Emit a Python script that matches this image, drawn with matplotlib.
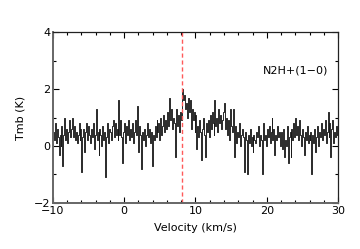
import numpy as np
import matplotlib
matplotlib.use("Agg")
import matplotlib.pyplot as plt
from matplotlib.ticker import MultipleLocator

# spectrum: 300 channels spanning -10 to 30 km/s
v_start = -10.0
v_end = 30.0
tmb = [
    0.5, 0.2, 0.8, 0.1, 0.6, 0.3, -0.3, 0.4, 0.0, 0.7,
    -0.7, 0.4, 1.0, 0.2, 0.6, 0.1, 0.5, 0.9, 0.3, 0.6,
    1.0, 0.3, 0.7, 0.2, 0.5, 0.1, 0.4, 0.8, 0.2, 0.6,
    -0.9, 0.3, 0.6, -0.2, 0.5, 0.8, 0.2, 0.7, 0.4, 0.1,
    0.6, 0.3, 0.8, -0.1, 0.4, 1.3, 0.2, 0.5, -0.3, 0.6,
    0.4, 0.0, 0.7, 0.2, 0.5, -1.1, 0.3, 0.8, 0.1, 0.6,
    0.5, 0.2, 0.7, 0.9, 0.3, 0.8, 0.4, 0.6, 0.2, 1.6,
    0.4, 0.9, 0.3, -0.6, 0.5, 0.8, 0.1, 0.7, 0.4, 0.9,
    0.2, 0.6, 0.3, 0.8, 0.1, 0.5, 0.9, 0.4, 1.4, 0.3,
    -0.2, 0.7, 0.4, -0.8, 0.5, 0.2, 0.6, 0.0, 0.4, 0.8,
    0.3, 0.6, 0.1, 0.5, -0.7, 0.4, 0.2, 0.7, 0.3, 0.9,
    0.5, 0.8, 0.2, 1.0, 0.4, 0.7, 1.1, 0.5, 0.9, 0.6,
    1.2, 0.7, 1.7, 0.9, 1.3, 0.6, 1.0, 0.8, -0.4, 0.9,
    1.3, 0.7, 1.1, 0.5, 1.2, 0.9, 2.0, 1.6, 1.8, 1.3,
    1.5, 1.0, 1.7, 1.2, 1.6, 0.6, 1.3, 0.9, 1.2, 0.5,
    1.1, -0.1, 0.7, 0.3, 0.9, 0.5, -0.5, 0.6, 1.0, 0.4,
    -0.4, 0.8, 0.5, 0.9, 0.3, 1.1, 0.6, 1.2, 0.8, 0.4,
    1.6, 0.7, 1.0, 0.5, 1.3, 0.8, 1.1, 0.6, 0.9, 1.2,
    1.5, 0.6, 1.0, 0.4, 0.9, 0.2, 1.3, 0.7, 0.5, 1.1,
    1.3, -0.4, 0.7, 0.1, 0.5, 0.3, 0.8, 0.0, 0.4, 0.6,
    0.3, -0.9, 0.5, 0.2, -1.0, 0.4, 0.1, 0.6, 0.0, 0.3,
    -0.2, 0.4, 0.2, 0.1, 0.5, 0.3, 0.7, 0.0, 0.4, 0.2,
    -1.0, 0.8, 0.2, 0.4, 0.0, 0.6, 0.3, 0.7, 0.1, 0.5,
    1.0, 0.2, 0.6, -0.3, 0.4, 0.2, 0.7, 0.3, 0.5, 0.0,
    0.5, -0.1, 0.6, -0.4, 0.2, 0.0, 0.7, -0.6, 0.3, 0.5,
    -0.4, 0.6, 0.2, 0.8, 0.3, 1.0, 0.4, 0.7, 0.2, 0.9,
    0.4, 0.0, 0.6, 0.3, -0.3, 0.5, 0.2, 0.7, 0.1, 0.4,
    0.2, 0.5, -1.0, 0.4, 0.1, 0.6, -0.2, 0.3, 0.7, 0.0,
    0.5, 0.3, 0.8, 0.2, 0.6, 0.4, 0.9, 0.1, 0.5, 1.2,
    0.3, 0.8, -0.4, 0.6, 0.9, 0.1, 0.5, 0.3, 0.7, 0.4,
]
v_sys = 8.1
line_name = "N2H+(1\u22120)"

v_step = (v_end - v_start) / len(tmb)
velocity = v_start + v_step * np.arange(len(tmb)) + v_step / 2

fig = plt.figure(figsize=(3.6, 2.49), dpi=100)
ax = fig.add_axes([0.147, 0.185, 0.792, 0.686])

ax.plot(velocity, tmb, drawstyle="steps-mid", color="#1a1a1a", lw=0.65)
ax.axvline(v_sys, color="#ff5a5a", ls=(0, (3, 2)), lw=1.0)

ax.set_xlim(-10, 30)
ax.set_ylim(-2, 4)
ax.xaxis.set_major_locator(MultipleLocator(10))
ax.xaxis.set_minor_locator(MultipleLocator(2))
ax.yaxis.set_major_locator(MultipleLocator(2))
ax.yaxis.set_minor_locator(MultipleLocator(1))
ax.tick_params(which="both", direction="in", top=True, right=True,
               labelsize=8, pad=2)
ax.tick_params(which="major", length=4, width=0.8)
ax.tick_params(which="minor", length=2.5, width=0.8)
for side in ["left", "bottom"]:
    ax.spines[side].set_color("#666666")
    ax.spines[side].set_linewidth(1.4)
for side in ["top", "right"]:
    ax.spines[side].set_color("#222222")
    ax.spines[side].set_linewidth(0.9)

ax.set_xlabel("Velocity (km/s)", fontsize=8, labelpad=5)
ax.set_ylabel("Tmb (K)", fontsize=8, labelpad=6)
ax.text(19.4, 2.55, line_name, fontsize=8)

fig.savefig("out.png", dpi=100)
